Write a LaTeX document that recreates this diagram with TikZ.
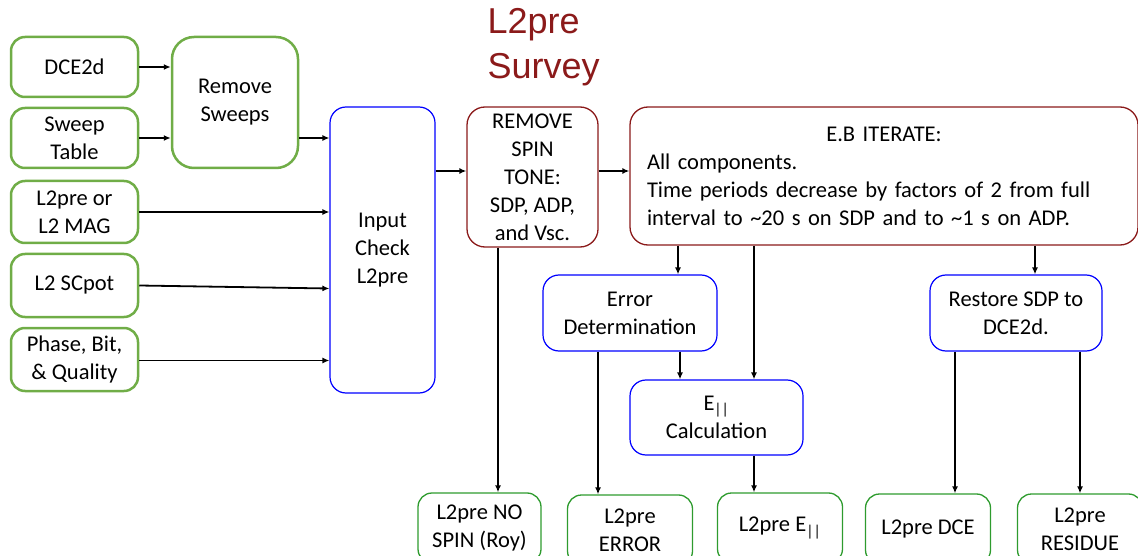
\documentclass[tikz,border=0pt]{standalone}
\usepackage{fontspec}
\setmainfont{Carlito}
\newfontfamily\titlefont{Liberation Sans}
\usetikzlibrary{positioning, calc, arrows.meta}
\definecolor{inGreen}{HTML}{70AD47}
\definecolor{outGreen}{HTML}{2E9B2E}
\definecolor{darkRed}{HTML}{8B1A1A}
\definecolor{boxBlue}{HTML}{0000FF}
\tikzset{
  inbox/.style={draw=inGreen, line width=2.5pt, rounded corners=14pt, align=center, inner sep=0pt},
  bluebox/.style={draw=boxBlue, line width=1.2pt, rounded corners=16pt, align=center, inner sep=0pt},
  redbox/.style={draw=darkRed, line width=1.3pt, rounded corners=18pt, inner sep=0pt},
  outbox/.style={draw=outGreen, line width=1.3pt, rounded corners=14pt, align=center, inner sep=0pt,
    minimum width=125pt, minimum height=70pt},
  arr/.style={line width=1.8pt, -{Latex[length=7pt,width=6pt]}}
}

\begin{document}
\begin{tikzpicture}[x=1pt, y=-1pt, font=\fontsize{22.5}{28}\selectfont]

    \useasboundingbox (0,0) rectangle (1138,556);

    % --- TITLE ---
    \node[font=\titlefont\fontsize{36}{45}\selectfont, text=darkRed, align=left, anchor=west] (title)
        at (484,47) {L2pre\\Survey};

    % --- INPUT FILES ---
    \node[inbox, minimum width=127pt, minimum height=60pt] (dce) at (74.5,67) {DCE2d};
    \node[inbox, minimum width=127pt, minimum height=60pt] (sweep) at (74.5,138) {Sweep\\Table};
    \node[inbox, minimum width=127pt, minimum height=62pt] (mag) at (74.5,212) {L2pre or\\L2 MAG};
    \node[inbox, minimum width=127pt, minimum height=63pt] (scpot) at (74.5,285.5) {L2 SCpot};
    \node[inbox, minimum width=127pt, minimum height=63pt] (phase) at (74.5,359.5) {Phase, Bit,\\\& Quality};

    % --- REMOVE SWEEPS ---
    \node[inbox, minimum width=126pt, minimum height=131pt, rounded corners=22pt] (rsweep)
        at (235,102.5) {Remove\\Sweeps};

    % --- INPUT CHECK ---
    \node[bluebox, minimum width=105pt, minimum height=286pt] (input) at (382.5,250) {Input\\Check\\L2pre};

    % --- SPIN TONE REMOVAL ---
    \node[redbox, align=center, minimum width=131pt, minimum height=140pt] (spin) at (532.5,177)
        {REMOVE\\SPIN\\TONE:\\SDP, ADP,\\and Vsc.};

    % --- E.B ITERATE ---
    \node[redbox, align=left, text width=474pt, inner xsep=17pt, minimum height=138pt] (iter) at (884,176)
        {\hfill E.B ITERATE:\hfill\null\\
         All components.\\
         Time periods decrease by factors of 2 from full\\
         interval to \textasciitilde20 s on SDP and to \textasciitilde1 s on ADP.};

    % --- PROCESSING STEPS ---
    \node[bluebox, minimum width=174pt, minimum height=76pt] (err) at (630,313) {Error\\Determination};
    \node[bluebox, minimum width=173pt, minimum height=75pt] (epar) at (716.5,417.5)
        {E\textsubscript{||}\\Calculation};
    \node[bluebox, minimum width=172pt, minimum height=76pt] (restore) at (1016,313)
        {Restore SDP to\\DCE2d.};

    % --- OUTPUT FILES ---
    \node[outbox, minimum width=123pt] (nospin) at (479.5,528) {L2pre NO\\SPIN (Roy)};
    \node[outbox] (errout) at (630,530) {L2pre\\ERROR};
    \node[outbox] (eout) at (780,528) {L2pre E\textsubscript{||}};
    \node[outbox] (dceout) at (928,529) {L2pre DCE};
    \node[outbox] (resout) at (1080,529) {L2pre\\RESIDUE};

    % --- INPUT ARROWS ---
    \draw[arr] (dce.east) -- (dce.east -| rsweep.west);
    \draw[arr] (sweep.east) -- (sweep.east -| rsweep.west);
    \draw[arr] ([yshift=-35.5pt]rsweep.east) -- ([yshift=-35.5pt]rsweep.east -| input.west);
    \draw[arr] (mag.east) -- (mag.east -| input.west);
    \draw[arr] (scpot.east) -- ([yshift=-3pt]scpot.east -| input.west);
    \draw[arr] ([yshift=-1pt]phase.east) -- ([yshift=-1pt]phase.east -| input.west);

    % --- MAIN CHAIN ---
    \draw[arr] ([yshift=79pt]input.east) -- ([yshift=79pt]input.east -| spin.west);
    \draw[arr] ([yshift=6pt]spin.east) -- ([yshift=6pt]spin.east -| iter.west);

    % --- DOWNWARD BRANCHES ---
    \draw[arr] ([xshift=-34.5pt]spin.south) -- ([xshift=-34.5pt]spin.south |- nospin.north);
    \draw[arr] ([xshift=-206pt]iter.south) -- ([xshift=-206pt]iter.south |- err.north);
    \draw[arr] ([xshift=-130pt]iter.south) -- ([xshift=-130pt]iter.south |- epar.north);
    \draw[arr] ([xshift=151pt]iter.south) -- ([xshift=151pt]iter.south |- restore.north);
    \draw[arr] ([xshift=50pt]err.south) -- ([xshift=50pt]err.south |- epar.north);
    \draw[arr] ([xshift=-32pt]err.south) -- ([xshift=-32pt]err.south |- errout.north);
    \draw[arr] ([xshift=37.5pt]epar.south) -- ([xshift=37.5pt]epar.south |- eout.north);
    \draw[arr] ([xshift=-61pt]restore.south) -- ([xshift=-61pt]restore.south |- dceout.north);
    \draw[arr] ([xshift=64pt]restore.south) -- ([xshift=64pt]restore.south |- resout.north);

\end{tikzpicture}
\end{document}
